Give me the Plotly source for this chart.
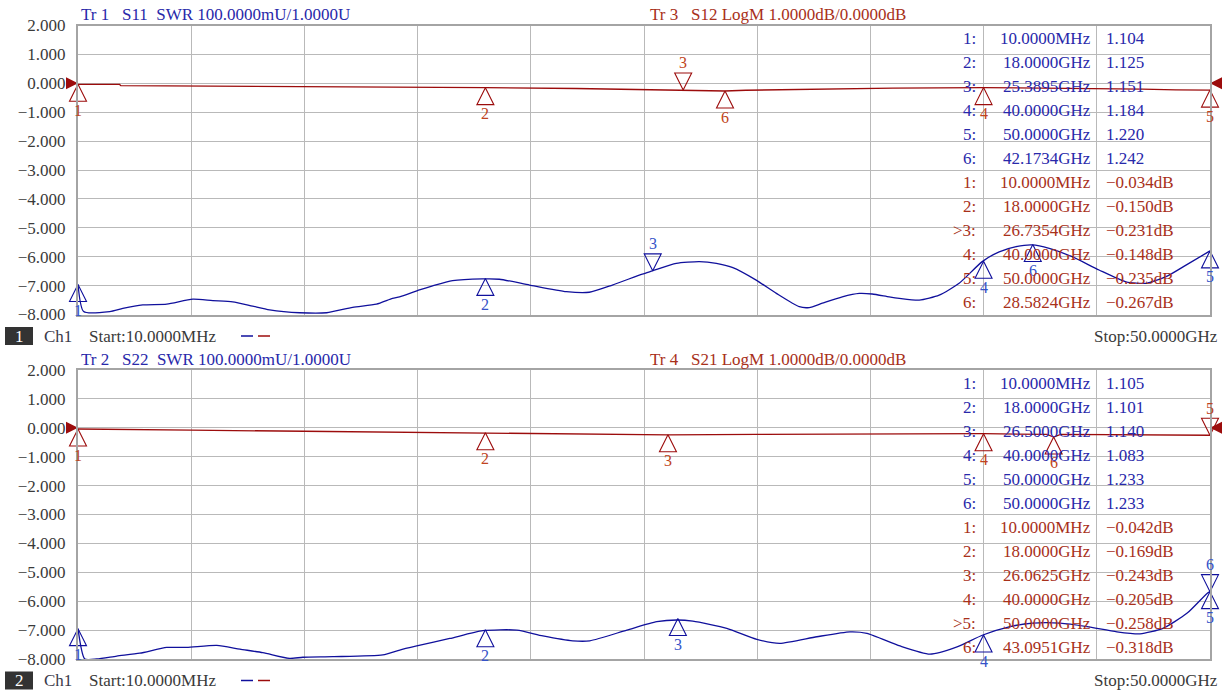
import plotly.graph_objects as go

W, H = 1225, 695
FONT = "Liberation Serif"

# ---------------- data ----------------
f_start, f_stop = 0.01, 50.0          # GHz
y_ticks = [2, 1, 0, -1, -2, -3, -4, -5, -6, -7, -8]   # dB (LogM, 1 dB/div)

# Tr1 S11 SWR (U)
s11_f = [0.01, 0.26, 1.41, 1.99, 2.87, 3.93, 5.08, 5.96, 6.84, 7.72, 8.47, 9.80, 10.99, 12.14,
         13.19, 13.90, 14.21, 15.09, 15.67, 16.55, 17.87, 18.62, 19.95, 21.58, 22.59, 23.61,
         24.93, 25.38, 26.43, 27.45, 28.20, 28.90, 29.96, 30.85, 31.86, 32.30, 32.88, 33.76,
         34.51, 35.08, 35.83, 36.28, 37.16, 38.04, 38.92, 39.94, 40.69, 41.44, 42.15, 42.90,
         43.91, 45.10, 46.29, 47.18, 48.06, 48.94, 50.00]
s11_v = [1.104, 1.010, 1.010, 1.021, 1.033, 1.036, 1.053, 1.048, 1.044, 1.029, 1.016, 1.006, 1.006,
         1.025, 1.036, 1.056, 1.061, 1.085, 1.099, 1.117, 1.123, 1.122, 1.102, 1.079, 1.077, 1.102,
         1.140, 1.151, 1.177, 1.183, 1.177, 1.163, 1.119, 1.073, 1.027, 1.024, 1.039, 1.061,
         1.073, 1.071, 1.061, 1.056, 1.050, 1.067, 1.108, 1.183, 1.217, 1.235, 1.241, 1.229,
         1.200, 1.154, 1.113, 1.108, 1.131, 1.171, 1.220]

# Tr3 S12 LogM (dB)
s12_f = [0.01, 1.85, 1.9, 5.5, 5.6, 10.0, 14.0, 18.0, 22.0, 25.0, 26.7, 27.6, 28.58, 29.5,
         33.0, 36.0, 40.0, 44.0, 47.0, 48.5, 50.0]
s12_v = [-0.034, -0.040, -0.080, -0.090, -0.100, -0.110, -0.130, -0.150, -0.180, -0.210, -0.231,
         -0.235, -0.267, -0.240, -0.200, -0.170, -0.148, -0.170, -0.200, -0.230, -0.235]

# Tr2 S22 SWR (U)
s22_f = [0.01, 0.31, 0.84, 1.72, 2.74, 3.93, 4.81, 6.14, 7.16, 8.17, 9.36, 9.94, 11.26, 13.47,
         14.22, 14.97, 16.43, 17.89, 19.39, 20.54, 21.86, 22.61, 24.25, 25.57, 26.46, 27.16,
         28.66, 29.99, 31.00, 32.64, 34.10, 34.85, 36.31, 37.63, 38.83, 39.97, 41.17, 42.18,
         43.37, 44.57, 45.89, 46.91, 47.92, 48.98, 49.87, 50.00]
s22_v = [1.105, 1.000, 1.000, 1.010, 1.020, 1.040, 1.040, 1.047, 1.034, 1.022, 1.002, 1.006, 1.008,
         1.014, 1.031, 1.045, 1.071, 1.098, 1.100, 1.080, 1.063, 1.063, 1.100, 1.129, 1.135,
         1.131, 1.106, 1.068, 1.054, 1.077, 1.094, 1.089, 1.045, 1.017, 1.042, 1.083, 1.112,
         1.124, 1.124, 1.112, 1.094, 1.087, 1.106, 1.158, 1.227, 1.233]

# Tr4 S21 LogM (dB)
s21_f = [0.01, 2.0, 5.0, 10.0, 14.0, 18.0, 22.0, 26.06, 30.0, 34.0, 37.0, 40.0, 42.8, 43.1,
         43.4, 47.0, 50.0]
s21_v = [-0.042, -0.050, -0.080, -0.120, -0.150, -0.169, -0.200, -0.243, -0.230, -0.210, -0.200,
         -0.205, -0.230, -0.318, -0.230, -0.240, -0.258]

# marker tables
m11_f = [0.01, 18.0, 25.3895, 40.0, 50.0, 42.1734]
m11_v = [1.104, 1.125, 1.151, 1.184, 1.220, 1.242]
m12_f = [0.01, 18.0, 26.7354, 40.0, 50.0, 28.5824]
m12_v = [-0.034, -0.150, -0.231, -0.148, -0.235, -0.267]
m22_f = [0.01, 18.0, 26.5, 40.0, 50.0, 50.0]
m22_v = [1.105, 1.101, 1.140, 1.083, 1.233, 1.233]
m21_f = [0.01, 18.0, 26.0625, 40.0, 50.0, 43.0951]
m21_v = [-0.042, -0.169, -0.243, -0.205, -0.258, -0.318]
active = {"m11": 3, "m12": 3, "m22": 6, "m21": 5}

hdr_top = ["Tr 1\u00a0\u00a0\u00a0S11\u00a0\u00a0SWR 100.0000mU/1.0000U",
           "Tr 3\u00a0\u00a0\u00a0S12 LogM 1.0000dB/0.0000dB"]
hdr_bot = ["Tr 2\u00a0\u00a0\u00a0S22\u00a0\u00a0SWR 100.0000mU/1.0000U",
           "Tr 4\u00a0\u00a0\u00a0S21 LogM 1.0000dB/0.0000dB"]

# ---------------- styles ----------------
BLUE = "#10109c"
RED = "#9c0c0c"
BLUE_TXT = "#2828aa"
RED_TXT = "#a8301a"
BLUE_LBL = "#3553c8"
RED_LBL = "#bf4420"
GRID = "#b9b9b9"
FRAME = "#a4a4a4"

def px(x):
    return x / W

def py(y):
    return 1 - y / H

panels = [
    dict(top=25.5, bot=314.5, xa="x", ya="y", ys="y3", xan="xaxis", yan="yaxis", ysn="yaxis3",
         swr=(s11_f, s11_v), db=(s12_f, s12_v), mswr=(m11_f, m11_v, active["m11"]),
         mdb=(m12_f, m12_v, active["m12"]), hdr=hdr_top, ch="1", tbl_top=38.3),
    dict(top=370.0, bot=659.0, xa="x2", ya="y2", ys="y4", xan="xaxis2", yan="yaxis2", ysn="yaxis4",
         swr=(s22_f, s22_v), db=(s21_f, s21_v), mswr=(m22_f, m22_v, active["m22"]),
         mdb=(m21_f, m21_v, active["m21"]), hdr=hdr_bot, ch="2", tbl_top=383.3),
]

L, R = 78.0, 1210.0
xgrid = [f_start + i * (f_stop - f_start) / 10 for i in range(11)]

def fmt_f(f):
    return f"{f*1000:.4f}MHz" if f < 1 else f"{f:.4f}GHz"

def fmt_num(v, unit=""):
    return (f"{v:.3f}" + unit).replace("-", "\u2212")

fig = go.Figure()
annotations = []
shapes = []
layout = {}

for p in panels:
    dom_y = [py(p["bot"]), py(p["top"])]
    layout[p["xan"]] = dict(domain=[px(L), px(R)], range=[f_start, f_stop], anchor=p["ya"],
                            tickvals=xgrid, showticklabels=False, ticks="", showgrid=True,
                            gridcolor=GRID, gridwidth=1, showline=True, mirror=True,
                            linecolor=FRAME, linewidth=2, zeroline=False, fixedrange=True,
                            automargin=False)
    layout[p["yan"]] = dict(domain=dom_y, range=[-8, 2], anchor=p["xa"], tickvals=y_ticks,
                            ticktext=[fmt_num(v) for v in y_ticks], ticks="",
                            ticklabelstandoff=7, automargin=False,
                            tickfont=dict(family=FONT, size=17, color="#3a3a3a"),
                            showgrid=True, gridcolor=GRID, gridwidth=1, showline=True,
                            mirror=True, linecolor=FRAME, linewidth=2, zeroline=False,
                            fixedrange=True)
    layout[p["ysn"]] = dict(overlaying=p["ya"], range=[1.0, 2.0], anchor=p["xa"], visible=False,
                            fixedrange=True, automargin=False)

    # traces
    fig.add_trace(go.Scatter(x=p["db"][0], y=p["db"][1], xaxis=p["xa"], yaxis=p["ya"],
                             mode="lines", line=dict(color=RED, width=1.3), hoverinfo="skip",
                             showlegend=False))
    fig.add_trace(go.Scatter(x=p["swr"][0], y=p["swr"][1], xaxis=p["xa"], yaxis=p["ys"],
                             mode="lines",
                             line=dict(color=BLUE, width=1.3, shape="spline", smoothing=0.6),
                             hoverinfo="skip", showlegend=False))

    # reference arrows (0 dB)
    fig.add_trace(go.Scatter(x=[f_start, f_stop], y=[0, 0], xaxis=p["xa"], yaxis=p["ya"],
                             mode="markers", cliponaxis=False, hoverinfo="skip", showlegend=False,
                             marker=dict(symbol=["arrow-right", "arrow-left"], size=12,
                                         color=RED, line=dict(width=0))))

    # markers
    for (mf, mv, act), yref, col, lcol in [(p["mdb"], p["ya"], RED, RED_LBL),
                                           (p["mswr"], p["ys"], BLUE, BLUE_LBL)]:
        syms = ["arrow-down-open" if i + 1 == act else "arrow-up-open" for i in range(len(mf))]
        fig.add_trace(go.Scatter(x=mf, y=mv, xaxis=p["xa"], yaxis=yref, mode="markers",
                                 cliponaxis=False, hoverinfo="skip", showlegend=False,
                                 marker=dict(symbol=syms, size=17, color=col,
                                             line=dict(width=1.1, color=col))))
        for i, (f, v) in enumerate(zip(mf, mv)):
            up = (i + 1 != act)
            annotations.append(dict(x=f, y=v, xref=p["xa"], yref=yref, text=str(i + 1),
                                    showarrow=False, yshift=-26 if up else 27,
                                    font=dict(family=FONT, size=16, color=lcol)))

    # headers
    annotations.append(dict(x=px(79), y=py(p["top"] - 11), xref="paper", yref="paper",
                            text=p["hdr"][0], showarrow=False, xanchor="left", yanchor="middle",
                            font=dict(family=FONT, size=17, color=BLUE_TXT)))
    annotations.append(dict(x=px(648), y=py(p["top"] - 11), xref="paper", yref="paper",
                            text=p["hdr"][1], showarrow=False, xanchor="left", yanchor="middle",
                            font=dict(family=FONT, size=17, color=RED_TXT)))

    # marker table
    rows = [(p["mswr"], BLUE_TXT, ""), (p["mdb"], RED_TXT, "dB")]
    r = 0
    for (mf, mv, act), col, unit in rows:
        for i, (f, v) in enumerate(zip(mf, mv)):
            yy = py(p["tbl_top"] + r * 24.0)
            idx = f"{i+1}:"
            if unit == "dB" and i + 1 == act:
                idx = ">" + idx
            annotations.append(dict(x=px(978), y=yy, xref="paper", yref="paper", text=idx,
                                    showarrow=False, xanchor="right", yanchor="middle",
                                    font=dict(family=FONT, size=17, color=col)))
            annotations.append(dict(x=px(1093), y=yy, xref="paper", yref="paper", text=fmt_f(f),
                                    showarrow=False, xanchor="right", yanchor="middle",
                                    font=dict(family=FONT, size=17, color=col)))
            annotations.append(dict(x=px(1104), y=yy, xref="paper", yref="paper",
                                    text=fmt_num(v, unit), showarrow=False, xanchor="left",
                                    yanchor="middle", font=dict(family=FONT, size=17, color=col)))
            r += 1

    # footer
    fy = p["bot"] + 21.5
    shapes.append(dict(type="rect", xref="paper", yref="paper", x0=px(5), x1=px(33),
                       y0=py(fy + 9), y1=py(fy - 9), fillcolor="#333333", line=dict(width=0)))
    annotations.append(dict(x=px(19), y=py(fy), xref="paper", yref="paper", text=p["ch"],
                            showarrow=False, xanchor="center", yanchor="middle",
                            font=dict(family=FONT, size=17, color="white")))
    annotations.append(dict(x=px(42), y=py(fy), xref="paper", yref="paper", text="Ch1",
                            showarrow=False, xanchor="left", yanchor="middle",
                            font=dict(family=FONT, size=17, color="#3a3a4a")))
    annotations.append(dict(x=px(87), y=py(fy), xref="paper", yref="paper",
                            text="Start:" + fmt_f(f_start), showarrow=False, xanchor="left",
                            yanchor="middle", font=dict(family=FONT, size=17, color="#3a3a3a")))
    shapes.append(dict(type="line", xref="paper", yref="paper", x0=px(241), x1=px(253),
                       y0=py(fy), y1=py(fy), line=dict(color=BLUE, width=1.5)))
    shapes.append(dict(type="line", xref="paper", yref="paper", x0=px(258), x1=px(270),
                       y0=py(fy), y1=py(fy), line=dict(color=RED, width=1.5)))
    annotations.append(dict(x=px(1220), y=py(fy), xref="paper", yref="paper",
                            text="Stop:" + fmt_f(f_stop), showarrow=False, xanchor="right",
                            yanchor="middle", font=dict(family=FONT, size=17, color="#3a3a3a")))

fig.update_layout(width=W, height=H, margin=dict(l=0, r=0, t=0, b=0, autoexpand=False),
                  autosize=False,
                  paper_bgcolor="white", plot_bgcolor="white", showlegend=False,
                  annotations=annotations, shapes=shapes, **layout)

fig.write_html("out.html", config={"displayModeBar": False, "staticPlot": True},
               post_script="document.body.style.margin='0';document.body.style.overflow='hidden';")
